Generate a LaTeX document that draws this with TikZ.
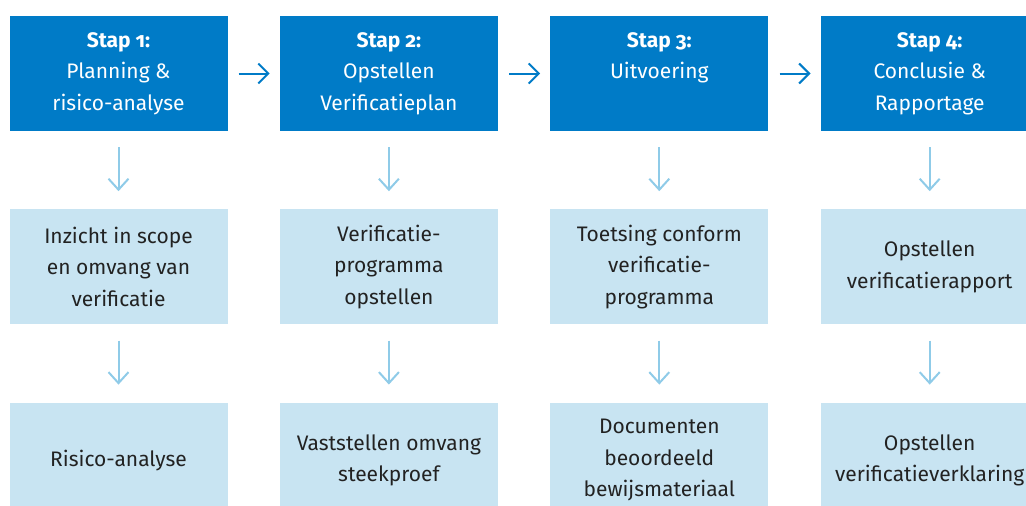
\documentclass[tikz,border=0pt]{standalone}
\usepackage{fontspec}
\setmainfont{Fira Sans}[Numbers=OldStyle]
\usetikzlibrary{arrows.meta,positioning}
\definecolor{stapblauw}{HTML}{007BC7}
\definecolor{vakblauw}{HTML}{C8E4F2}
\definecolor{pijlblauw}{HTML}{8FCBE8}
\definecolor{tekstgrijs}{HTML}{222222}

\begin{document}
\begin{tikzpicture}[x=1pt,y=-1pt,
	stap/.style={fill=stapblauw,text=white,minimum width=218pt,minimum height=115pt,
		inner sep=0pt,align=center,font=\fontsize{21}{31.5}\selectfont},
	vak/.style={stap,fill=vakblauw,text=tekstgrijs},
	pijlrechts/.style={draw=stapblauw,line width=2pt,-{Straight Barb[length=10pt,width=20pt]},
		shorten <=11pt,shorten >=10pt},
	pijlonder/.style={draw=pijlblauw,line width=2pt,-{Straight Barb[length=11pt,width=20pt]},
		shorten <=16pt,shorten >=18pt},
	node distance=78pt and 52pt]
	\useasboundingbox (0,0) rectangle (1026,506);
	\clip (0,0) rectangle (1026,506);
	% stappen
	\node[stap] (s1) at (118.5,73.5) {\textbf{Stap 1:}\\Planning \&\\risico-analyse};
	\node[stap,right=of s1] (s2) {\textbf{Stap 2:}\\Opstellen\\Verificatieplan};
	\node[stap,right=of s2] (s3) {\textbf{Stap 3:}\\Uitvoering\\\phantom{y}};
	\node[stap,right=of s3] (s4) {\textbf{Stap 4:}\\Conclusie \&\\Rapportage};
	% activiteiten
	\node[vak,below=of s1] (a1) {Inzicht in scope\\en omvang van\\verificatie};
	\node[vak,below=of s2] (a2) {Verificatie-\\programma\\opstellen};
	\node[vak,below=of s3] (a3) {Toetsing conform\\verificatie-\\programma};
	\node[vak,below=of s4] (a4) {Opstellen\\verificatierapport};
	% resultaten
	\node[vak,below=of a1] (r1) {Risico-analyse};
	\node[vak,below=of a2] (r2) {Vaststellen omvang\\steekproef};
	\node[vak,below=of a3] (r3) {Documenten\\beoordeeld\\bewijsmateriaal};
	\node[vak,below=of a4] (r4) {Opstellen\\verificatieverklaring};
	\draw[pijlrechts] (s1) -- (s2);
	\draw[pijlrechts] (s2) -- (s3);
	\draw[pijlrechts] (s3) -- (s4);
	\foreach \k in {1,...,4}{
		\draw[pijlonder] (s\k) -- (a\k);
		\draw[pijlonder] (a\k) -- (r\k);
	}
\end{tikzpicture}
\end{document}
